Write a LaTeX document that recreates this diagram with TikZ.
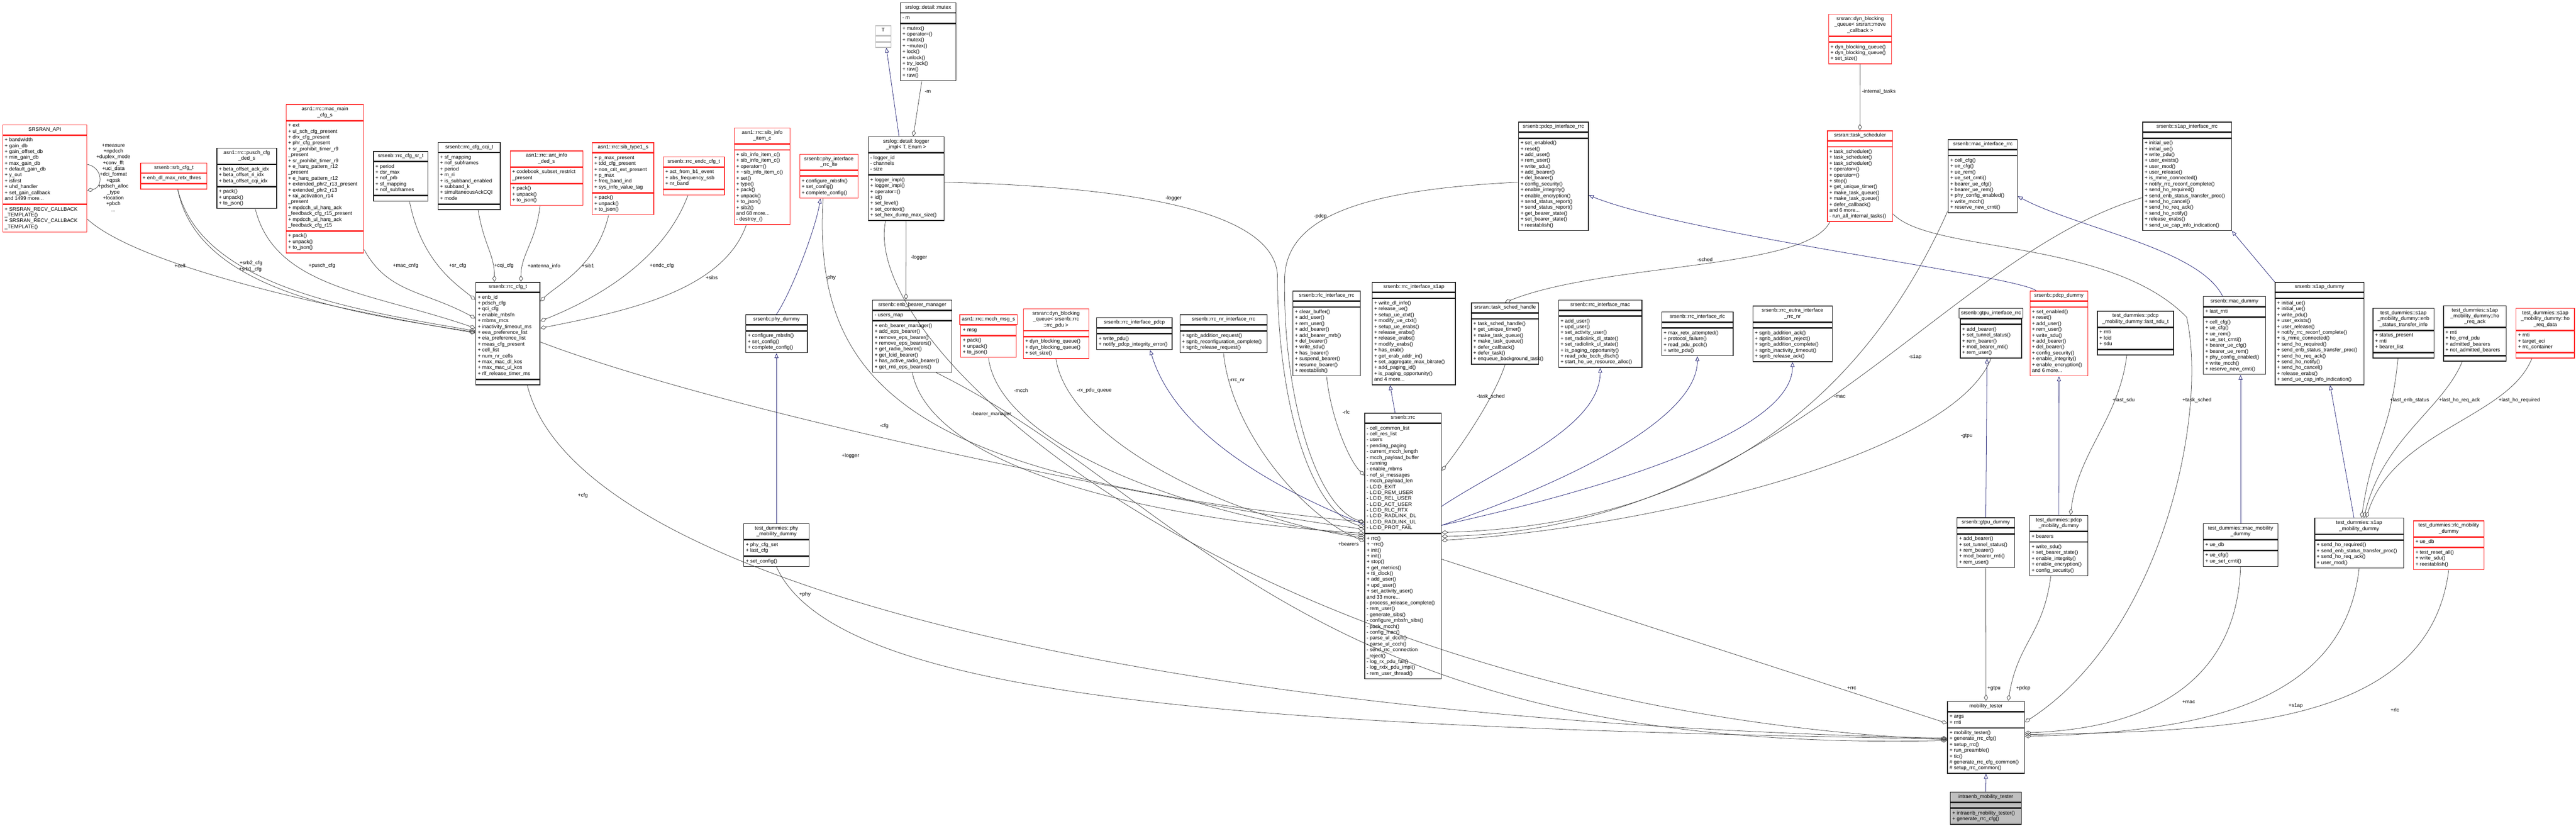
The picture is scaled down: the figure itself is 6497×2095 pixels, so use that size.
\documentclass[tikz,border=0pt]{standalone}
\usepackage{fontspec}
\setmainfont{Liberation Sans}
\usetikzlibrary{arrows.meta,fit}
\definecolor{cred}{RGB}{255,40,40}
\definecolor{cblk}{RGB}{30,30,30}
\definecolor{cgry}{RGB}{191,191,191}
\definecolor{edgec}{RGB}{64,64,64}
\definecolor{inhc}{RGB}{25,25,112}
\tikzset{
  cfont/.style={font=\fontsize{6.5}{7.4}\selectfont},
  cpart/.style={draw, line width=0.9pt, fill=white, inner xsep=2.5pt, inner ysep=2.5pt, cfont},
  ctitle/.style={cpart, anchor=north west},
  cbody/.style={cpart, anchor=north},
  rb/.style={draw=cred},
  bb/.style={draw=cblk},
  gb/.style={draw=cgry},
  fb/.style={draw=cblk, fill=cgry},
  agg/.style={draw=edgec, line width=0.5pt, -{Diamond[open,length=8pt,width=5pt,line width=0.5pt]}},
  inh/.style={draw=inhc, line width=0.5pt, -{Triangle[open,length=6pt,width=5pt,line width=0.5pt]}},
  lbl/.style={cfont, inner sep=0.5pt, align=center},
}
\newcommand{\umlbox}[8]{%
  \pgfmathsetmacro{\bw}{#5*0.5}%
  \pgfmathsetmacro{\tw}{#5*0.5-5}%
  \node[ctitle,#1,minimum width=\bw pt] (#2-t) at (#3,#4) {\begin{tabular}{@{}c@{}}#6\end{tabular}};
  \node[cbody,#1,minimum width=\bw pt] (#2-a) at (#2-t.south) {\makebox[\tw pt][l]{\begin{tabular}{@{}l@{}}#7\end{tabular}}};
  \node[cbody,#1,minimum width=\bw pt] (#2-m) at (#2-a.south) {\makebox[\tw pt][l]{\begin{tabular}{@{}l@{}}#8\end{tabular}}};
  \node[fit=(#2-t)(#2-a)(#2-m),inner sep=0pt] (#2) {};
}
\begin{document}
\begin{tikzpicture}[x=0.5pt,y=-0.5pt]
\useasboundingbox (0,0) rectangle (6497,2095);
\fill[white] (0,0) rectangle (6497,2095);

% ---------- rank 1/2 ----------
\umlbox{rb}{rf}{6}{314}{212}{SRSRAN\_API}{+ bandwidth\\+ gain\_db\\+ gain\_offset\_db\\+ min\_gain\_db\\+ max\_gain\_db\\+ default\_gain\_db\\+ y\_out\\+ isfirst\\+ uhd\_handler\\+ set\_gain\_callback\\and 1499 more...}{+ SRSRAN\_RECV\_CALLBACK\\\_TEMPLATE()\\+ SRSRAN\_RECV\_CALLBACK\\\_TEMPLATE()}
\umlbox{rb}{srb}{354}{410}{167}{srsenb::srb\_cfg\_t}{+ enb\_dl\_max\_retx\_thres}{}
\umlbox{bb}{pusch}{546}{373}{151}{asn1::rrc::pusch\_cfg\\\_ded\_s}{+ beta\_offset\_ack\_idx\\+ beta\_offset\_ri\_idx\\+ beta\_offset\_cqi\_idx}{+ pack()\\+ unpack()\\+ to\_json()}
\umlbox{rb}{macmain}{721}{263}{195}{asn1::rrc::mac\_main\\\_cfg\_s}{+ ext\\+ ul\_sch\_cfg\_present\\+ drx\_cfg\_present\\+ phr\_cfg\_present\\+ sr\_prohibit\_timer\_r9\\\_present\\+ sr\_prohibit\_timer\_r9\\+ e\_harq\_pattern\_r12\\\_present\\+ e\_harq\_pattern\_r12\\+ extended\_phr2\_r13\_present\\+ extended\_phr2\_r13\\+ rai\_activation\_r14\\\_present\\+ mpdcch\_ul\_harq\_ack\\\_feedback\_cfg\_r15\_present\\+ mpdcch\_ul\_harq\_ack\\\_feedback\_cfg\_r15}{+ pack()\\+ unpack()\\+ to\_json()}
\umlbox{bb}{sr}{941}{381}{137}{srsenb::rrc\_cfg\_sr\_t}{+ period\\+ dsr\_max\\+ nof\_prb\\+ sf\_mapping\\+ nof\_subframes}{}
\umlbox{bb}{cqi}{1104}{358}{157}{srsenb::rrc\_cfg\_cqi\_t}{+ sf\_mapping\\+ nof\_subframes\\+ period\\+ m\_ri\\+ is\_subband\_enabled\\+ subband\_k\\+ simultaneousAckCQI\\+ mode}{}
\umlbox{rb}{antinfo}{1286}{380}{183}{asn1::rrc::ant\_info\\\_ded\_s}{+ codebook\_subset\_restrict\\\_present}{+ pack()\\+ unpack()\\+ to\_json()}
\umlbox{rb}{sib1}{1493}{359}{155}{asn1::rrc::sib\_type1\_s}{+ p\_max\_present\\+ tdd\_cfg\_present\\+ non\_crit\_ext\_present\\+ p\_max\\+ freq\_band\_ind\\+ sys\_info\_value\_tag}{+ pack()\\+ unpack()\\+ to\_json()}
\umlbox{rb}{endc}{1672}{395}{154}{srsenb::rrc\_endc\_cfg\_t}{+ act\_from\_b1\_event\\+ abs\_frequency\_ssb\\+ nr\_band}{}
\umlbox{rb}{sibinfo}{1851}{322}{141}{asn1::rrc::sib\_info\\\_item\_c}{}{+ sib\_info\_item\_c()\\+ sib\_info\_item\_c()\\+ operator=()\\+ \textasciitilde sib\_info\_item\_c()\\+ set()\\+ type()\\+ pack()\\+ unpack()\\+ to\_json()\\+ sib2()\\and 68 more...\\- destroy\_()}
\umlbox{rb}{phyif}{2016}{388}{147}{srsenb::phy\_interface\\\_rrc\_lte}{}{+ configure\_mbsfn()\\+ set\_config()\\+ complete\_config()}
\umlbox{gb}{T}{2207}{64}{39}{T}{}{}
\umlbox{bb}{mutex}{2270}{6}{140}{srslog::detail::mutex}{- m}{+ mutex()\\+ operator=()\\+ mutex()\\+ \textasciitilde mutex()\\+ lock()\\+ unlock()\\+ try\_lock()\\+ raw()\\+ raw()}
\umlbox{bb}{logger}{2189}{344}{191}{srslog::detail::logger\\\_impl< T, Enum >}{- logger\_id\\- channels\\- size}{+ logger\_impl()\\+ logger\_impl()\\+ operator=()\\+ id()\\+ set\_level()\\+ set\_context()\\+ set\_hex\_dump\_max\_size()}
\umlbox{bb}{pdcpif}{3829}{307}{176}{srsenb::pdcp\_interface\_rrc}{}{+ set\_enabled()\\+ reset()\\+ add\_user()\\+ rem\_user()\\+ write\_sdu()\\+ add\_bearer()\\+ del\_bearer()\\+ config\_security()\\+ enable\_integrity()\\+ enable\_encryption()\\+ send\_status\_report()\\+ send\_status\_report()\\+ get\_bearer\_state()\\+ set\_bearer\_state()\\+ reestablish()}
\umlbox{rb}{dynq}{4611}{35}{159}{srsran::dyn\_blocking\\\_queue< srsran::move\\\_callback >}{}{+ dyn\_blocking\_queue()\\+ dyn\_blocking\_queue()\\+ set\_size()}
\umlbox{rb}{tasksched}{4608}{329}{164}{srsran::task\_scheduler}{}{+ task\_scheduler()\\+ task\_scheduler()\\+ task\_scheduler()\\+ operator=()\\+ operator=()\\+ stop()\\+ get\_unique\_timer()\\+ make\_task\_queue()\\+ make\_task\_queue()\\+ defer\_callback()\\and 6 more...\\- run\_all\_internal\_tasks()}
\umlbox{bb}{macif}{4913}{351}{174}{srsenb::mac\_interface\_rrc}{}{+ cell\_cfg()\\+ ue\_cfg()\\+ ue\_rem()\\+ ue\_set\_crnti()\\+ bearer\_ue\_cfg()\\+ bearer\_ue\_rem()\\+ phy\_config\_enabled()\\+ write\_mcch()\\+ reserve\_new\_crnti()}
\umlbox{bb}{s1apif}{5403}{307}{224}{srsenb::s1ap\_interface\_rrc}{}{+ initial\_ue()\\+ initial\_ue()\\+ write\_pdu()\\+ user\_exists()\\+ user\_mod()\\+ user\_release()\\+ is\_mme\_connected()\\+ notify\_rrc\_reconf\_complete()\\+ send\_ho\_required()\\+ send\_enb\_status\_transfer\_proc()\\+ send\_ho\_cancel()\\+ send\_ho\_req\_ack()\\+ send\_ho\_notify()\\+ release\_erabs()\\+ send\_ue\_cap\_info\_indication()}

% ---------- rank 3 ----------
\umlbox{bb}{rrccfg}{1199}{711}{162}{srsenb::rrc\_cfg\_t}{+ enb\_id\\+ pdsch\_cfg\\+ qci\_cfg\\+ enable\_mbsfn\\+ mbms\_mcs\\+ inactivity\_timeout\_ms\\+ eea\_preference\_list\\+ eia\_preference\_list\\+ meas\_cfg\_present\\+ cell\_list\\+ num\_nr\_cells\\+ max\_mac\_dl\_kos\\+ max\_mac\_ul\_kos\\+ rlf\_release\_timer\_ms}{}
\umlbox{bb}{phydummy}{1880}{793}{155}{srsenb::phy\_dummy}{}{+ configure\_mbsfn()\\+ set\_config()\\+ complete\_config()}
\umlbox{bb}{bearermgr}{2200}{756}{200}{srsenb::enb\_bearer\_manager}{- users\_map}{+ enb\_bearer\_manager()\\+ add\_eps\_bearer()\\+ remove\_eps\_bearer()\\+ remove\_eps\_bearers()\\+ get\_radio\_bearer()\\+ get\_lcid\_bearer()\\+ has\_active\_radio\_bearer()\\+ get\_rnti\_eps\_bearers()}
\umlbox{rb}{mcch}{2420}{793}{140}{asn1::rrc::mcch\_msg\_s}{+ msg}{+ pack()\\+ unpack()\\+ to\_json()}
\umlbox{rb}{rxq}{2580}{778}{165}{srsran::dyn\_blocking\\\_queue< srsenb::rrc\\::rrc\_pdu >}{}{+ dyn\_blocking\_queue()\\+ dyn\_blocking\_queue()\\+ set\_size()}
\umlbox{bb}{rrcifpdcp}{2765}{800}{190}{srsenb::rrc\_interface\_pdcp}{}{+ write\_pdu()\\+ notify\_pdcp\_integrity\_error()}
\umlbox{bb}{rrcnrif}{2975}{793}{220}{srsenb::rrc\_nr\_interface\_rrc}{}{+ sgnb\_addition\_request()\\+ sgnb\_reconfiguration\_complete()\\+ sgnb\_release\_request()}
\umlbox{bb}{rlcif}{3260}{733}{170}{srsenb::rlc\_interface\_rrc}{}{+ clear\_buffer()\\+ add\_user()\\+ rem\_user()\\+ add\_bearer()\\+ add\_bearer\_mrb()\\+ del\_bearer()\\+ write\_sdu()\\+ has\_bearer()\\+ suspend\_bearer()\\+ resume\_bearer()\\+ reestablish()}
\umlbox{bb}{rrcifs1ap}{3460}{711}{210}{srsenb::rrc\_interface\_s1ap}{}{+ write\_dl\_info()\\+ release\_ue()\\+ setup\_ue\_ctxt()\\+ modify\_ue\_ctxt()\\+ setup\_ue\_erabs()\\+ release\_erabs()\\+ release\_erabs()\\+ modify\_erabs()\\+ has\_erab()\\+ get\_erab\_addr\_in()\\+ set\_aggregate\_max\_bitrate()\\+ add\_paging\_id()\\+ is\_paging\_opportunity()\\and 4 more...}
\umlbox{bb}{tsh}{3710}{763}{170}{srsran::task\_sched\_handle}{}{+ task\_sched\_handle()\\+ get\_unique\_timer()\\+ make\_task\_queue()\\+ make\_task\_queue()\\+ defer\_callback()\\+ defer\_task()\\+ enqueue\_background\_task()}
\umlbox{bb}{rrcifmac}{3930}{756}{210}{srsenb::rrc\_interface\_mac}{}{+ add\_user()\\+ upd\_user()\\+ set\_activity\_user()\\+ set\_radiolink\_dl\_state()\\+ set\_radiolink\_ul\_state()\\+ is\_paging\_opportunity()\\+ read\_pdu\_bcch\_dlsch()\\+ start\_ho\_ue\_resource\_alloc()}
\umlbox{bb}{rrcifrlc}{4190}{786}{180}{srsenb::rrc\_interface\_rlc}{}{+ max\_retx\_attempted()\\+ protocol\_failure()\\+ read\_pdu\_pcch()\\+ write\_pdu()}
\umlbox{bb}{rrceutra}{4420}{771}{200}{srsenb::rrc\_eutra\_interface\\\_rrc\_nr}{}{+ sgnb\_addition\_ack()\\+ sgnb\_addition\_reject()\\+ sgnb\_addition\_complete()\\+ sgnb\_inactivity\_timeout()\\+ sgnb\_release\_ack()}
\umlbox{bb}{gtpuif}{4940}{777}{155}{srsenb::gtpu\_interface\_rrc}{}{+ add\_bearer()\\+ set\_tunnel\_status()\\+ rem\_bearer()\\+ mod\_bearer\_rnti()\\+ rem\_user()}
\umlbox{rb}{pdcpdummy}{5119}{733}{146}{srsenb::pdcp\_dummy}{}{+ set\_enabled()\\+ reset()\\+ add\_user()\\+ rem\_user()\\+ write\_sdu()\\+ add\_bearer()\\+ del\_bearer()\\+ config\_security()\\+ enable\_integrity()\\+ enable\_encryption()\\and 6 more...}
\umlbox{bb}{lastsdu}{5289}{784}{192}{test\_dummies::pdcp\\\_mobility\_dummy::last\_sdu\_t}{+ rnti\\+ lcid\\+ sdu}{}
\umlbox{bb}{macdummy}{5556}{747}{157}{srsenb::mac\_dummy}{+ last\_rnti}{+ cell\_cfg()\\+ ue\_cfg()\\+ ue\_rem()\\+ ue\_set\_crnti()\\+ bearer\_ue\_cfg()\\+ bearer\_ue\_rem()\\+ phy\_config\_enabled()\\+ write\_mcch()\\+ reserve\_new\_crnti()}
\umlbox{bb}{s1apdummy}{5737}{711}{224}{srsenb::s1ap\_dummy}{}{+ initial\_ue()\\+ initial\_ue()\\+ write\_pdu()\\+ user\_exists()\\+ user\_release()\\+ notify\_rrc\_reconf\_complete()\\+ is\_mme\_connected()\\+ send\_ho\_required()\\+ send\_enb\_status\_transfer\_proc()\\+ send\_ho\_req\_ack()\\+ send\_ho\_notify()\\+ send\_ho\_cancel()\\+ release\_erabs()\\+ send\_ue\_cap\_info\_indication()}
\umlbox{bb}{enbstatus}{5984}{777}{154}{test\_dummies::s1ap\\\_mobility\_dummy::enb\\\_status\_transfer\_info}{+ status\_present\\+ rnti\\+ bearer\_list}{}
\umlbox{bb}{horeqack}{6162}{770}{158}{test\_dummies::s1ap\\\_mobility\_dummy::ho\\\_req\_ack}{+ rnti\\+ ho\_cmd\_pdu\\+ admitted\_bearers\\+ not\_admitted\_bearers}{}
\umlbox{rb}{horeqdata}{6345}{777}{147}{test\_dummies::s1ap\\\_mobility\_dummy::ho\\\_req\_data}{+ rnti\\+ target\_eci\\+ rrc\_container}{}

% ---------- rank 4-6 ----------
\umlbox{bb}{rrc}{3441}{1041}{193}{srsenb::rrc}{- cell\_common\_list\\- cell\_res\_list\\- users\\- pending\_paging\\- current\_mcch\_length\\- mcch\_payload\_buffer\\- running\\- enable\_mbms\\- nof\_si\_messages\\- mcch\_payload\_len\\- LCID\_EXIT\\- LCID\_REM\_USER\\- LCID\_REL\_USER\\- LCID\_ACT\_USER\\- LCID\_RLC\_RTX\\- LCID\_RADLINK\_DL\\- LCID\_RADLINK\_UL\\- LCID\_PROT\_FAIL}{+ rrc()\\+ \textasciitilde rrc()\\+ init()\\+ init()\\+ stop()\\+ get\_metrics()\\+ tti\_clock()\\+ add\_user()\\+ upd\_user()\\+ set\_activity\_user()\\and 33 more...\\- process\_release\_complete()\\- rem\_user()\\- generate\_sibs()\\- configure\_mbsfn\_sibs()\\- pack\_mcch()\\- config\_mac()\\- parse\_ul\_dcch()\\- parse\_ul\_ccch()\\- send\_rrc\_connection\\\_reject()\\- log\_rx\_pdu\_fail()\\- log\_rxtx\_pdu\_impl()\\- rem\_user\_thread()}
\umlbox{bb}{phymob}{1875}{1320}{165}{test\_dummies::phy\\\_mobility\_dummy}{+ phy\_cfg\_set\\+ last\_cfg}{+ set\_config()}
\umlbox{bb}{gtpudummy}{4935}{1305}{145}{srsenb::gtpu\_dummy}{}{+ add\_bearer()\\+ set\_tunnel\_status()\\+ rem\_bearer()\\+ mod\_bearer\_rnti()\\+ rem\_user()}
\umlbox{bb}{pdcpmob}{5118}{1299}{147}{test\_dummies::pdcp\\\_mobility\_dummy}{+ bearers}{+ write\_sdu()\\+ set\_bearer\_state()\\+ enable\_integrity()\\+ enable\_encryption()\\+ config\_security()}
\umlbox{bb}{macmob}{5556}{1320}{188}{test\_dummies::mac\_mobility\\\_dummy}{+ ue\_db}{+ ue\_cfg()\\+ ue\_set\_crnti()}
\umlbox{bb}{s1apmob}{5837}{1306}{224}{test\_dummies::s1ap\\\_mobility\_dummy}{}{+ send\_ho\_required()\\+ send\_enb\_status\_transfer\_proc()\\+ send\_ho\_req\_ack()\\+ user\_mod()}
\umlbox{rb}{rlcmob}{6086}{1313}{178}{test\_dummies::rlc\_mobility\\\_dummy}{+ ue\_db}{+ test\_reset\_all()\\+ write\_sdu()\\+ reestablish()}
\umlbox{bb}{mobtester}{4911}{1768}{194}{mobility\_tester}{+ args\\+ rnti}{+ mobility\_tester()\\+ generate\_rrc\_cfg()\\+ setup\_rrc()\\+ run\_preamble()\\+ tic()\\\# generate\_rrc\_cfg\_common()\\\# setup\_rrc\_common()}
\umlbox{fb}{intraenb}{4918}{1997}{179}{intraenb\_mobility\_tester}{}{+ intraenb\_mobility\_tester()\\+ generate\_rrc\_cfg()}

% ---------- edges: top ----------
\draw[agg] ([xshift=-8pt]mutex.south) -- ([xshift=9pt]logger.north);
\node[lbl] (lm) at (2340,231) {-m};
\draw[inh] ([xshift=-9pt]logger.north) -- ([xshift=4pt]T.south);
\draw[agg] (dynq.south) -- (tasksched.north);
\node[lbl,anchor=west] (lit) at (4695,231) {-internal\_tasks};
\draw[agg] ([yshift=17.75pt]rf.east) .. controls +(40,8) and +(40,-8) .. ([yshift=-15.25pt]rf.east);
\node[lbl] (lrf) at (286,448) {+measure\\+npdcch\\+duplex\_mode\\+conv\_fft\\+uci\_data\\+dci\_format\\+qpsk\\+pdsch\_alloc\\\_type\\+location\\+pbch\\...};

% ---------- edges into rrc_cfg_t ----------
\draw[agg] ([yshift=-51.25pt]rf.east) .. controls +(120,110) and +(-420,-70) .. ([yshift=0.75pt]rrccfg.west);
\node[lbl] (lcell) at (454,671) {+cell};
\draw[agg] ([xshift=5pt]srb.south) .. controls +(60,240) and +(-320,-55) .. ([yshift=3.25pt]rrccfg.west);
\draw[agg] ([xshift=5pt]srb.south) .. controls +(50,250) and +(-330,-50) .. ([yshift=1.75pt]rrccfg.west);
\node[lbl] (lsrb2) at (633,664) {+srb2\_cfg};
\node[lbl] (lsrb1) at (631,679) {+srb1\_cfg};
\draw[agg] ([xshift=10.75pt]pusch.south) .. controls +(50,200) and +(-260,-90) .. ([yshift=6.75pt]rrccfg.west);
\node[lbl] (lpusch) at (812,671) {+pusch\_cfg};
\draw[agg] ([yshift=5pt]macmain.south east) .. controls +(60,110) and +(-130,-70) .. ([yshift=19.25pt]rrccfg.west);
\node[lbl] (lmaccn) at (1023,671) {+mac\_cnfg};
\draw[agg] ([xshift=11.25pt]sr.south) .. controls +(30,150) and +(-50,-40) .. ([yshift=42.75pt]rrccfg.west);
\node[lbl] (lsr) at (1154,671) {+sr\_cfg};
\draw[agg] ([xshift=11.25pt]cqi.south) .. controls +(15,90) and +(0,-70) .. ([xshift=-17pt]rrccfg.north);
\node[lbl] (lcqi) at (1271,671) {+cqi\_cfg};
\draw[agg] ([xshift=-8.25pt]antinfo.south) .. controls +(-10,90) and +(0,-70) .. ([xshift=16.5pt]rrccfg.north);
\node[lbl] (lant) at (1372,671) {+antenna\_info};
\draw[agg] ([xshift=-18.25pt]sib1.south) .. controls +(-30,130) and +(40,-40) .. ([yshift=40.75pt]rrccfg.east);
\node[lbl] (lsib1) at (1483,671) {+sib1};
\draw[agg] ([xshift=-7.5pt]endc.south) .. controls +(-60,160) and +(150,-60) .. ([yshift=15.75pt]rrccfg.east);
\node[lbl] (lendc) at (1669,671) {+endc\_cfg};
\draw[agg] ([xshift=-20.25pt]sibinfo.south) .. controls +(-60,170) and +(200,-40) .. ([yshift=6.75pt]rrccfg.east);
\node[lbl] (lsibs) at (1795,700) {+sibs};

% ---------- edges into rrc ----------
\draw[agg] ([yshift=-10.75pt]rrccfg.east) .. controls +(500,190) and +(-450,-60) .. ([yshift=21pt]rrc.west);
\node[lbl] (lcfg) at (2230,1075) {-cfg};
\draw[inh] (phydummy.north) .. controls +(40,-60) and +(-10,70) .. ([xshift=-10.75pt]phyif.south);
\draw[agg] ([xshift=-7.25pt]phyif.south) .. controls +(-30,500) and +(-1100,-110) .. ([yshift=30pt]rrc.west);
\node[lbl] (lphy) at (2095,700) {-phy};
\draw[inh] (phymob.north) -- (phydummy.south);
\draw[agg] ([yshift=-4.5pt]logger.east) .. controls (2800,470) and (3222,520) .. (3222,700) .. controls (3222,1000) and (3300,1290) .. ([yshift=24pt]rrc.west);
\node[lbl] (llog1) at (2960,500) {-logger};
\draw[agg] (logger.south) -- ([xshift=-8pt]bearermgr.north);
\node[lbl] (llog2) at (2318,650) {-logger};
\draw[agg] ([yshift=-7.5pt]pdcpif.west) .. controls (3400,480) and (3245,560) .. (3240,700) .. controls (3235,1000) and (3320,1280) .. ([yshift=30pt]rrc.west);
\node[lbl] (lpdcp) at (3330,545) {-pdcp};
\draw[agg] (bearermgr.south) .. controls +(50,250) and +(-500,-30) .. ([yshift=16pt]rrc.west);
\node[lbl] (lbm) at (2500,1045) {-bearer\_manager};
\draw[agg] (mcch.south) .. controls +(30,230) and +(-400,-40) .. ([yshift=13pt]rrc.west);
\node[lbl] (lmcch) at (2575,985) {-mcch};
\draw[agg] (rxq.south) .. controls +(30,200) and +(-350,-50) .. ([yshift=10pt]rrc.west);
\node[lbl] (lrxq) at (2760,985) {-rx\_pdu\_queue};
\draw[inh] ([yshift=27pt]rrc.west) .. controls +(-250,-100) and +(60,200) .. ([xshift=20pt]rrcifpdcp.south);
\draw[agg] (rrcnrif.south) .. controls +(20,200) and +(-150,-60) .. ([yshift=6pt]rrc.west);
\node[lbl] (lnr) at (3120,960) {-rrc\_nr};
\draw[agg] (rlcif.south) .. controls +(10,100) and +(-40,-40) .. ([yshift=89pt]rrc.west);
\node[lbl] (lrlc) at (3395,1040) {-rlc};
\draw[inh] ([xshift=-10pt]rrc.north) -- ([xshift=-30pt]rrcifs1ap.south);
\draw[agg] (tsh.south) .. controls +(-30,90) and +(40,-50) .. ([yshift=95pt]rrc.east);
\node[lbl] (ltsh) at (3760,1000) {-task\_sched};
\draw[agg] ([xshift=-38pt]tasksched.south) .. controls +(-60,120) and +(250,-100) .. (tsh.north);
\node[lbl] (lsched) at (4300,655) {-sched};
\draw[inh] ([yshift=50pt]rrc.east) .. controls +(150,-100) and +(0,150) .. (rrcifmac.south);
\draw[inh] ([yshift=26pt]rrc.east) .. controls +(350,-120) and +(0,150) .. (rrcifrlc.south);
\draw[inh] ([yshift=26pt]rrc.east) .. controls +(450,-100) and +(0,170) .. (rrceutra.south);
\draw[agg] ([yshift=3pt]macif.south west) .. controls +(-200,450) and +(700,-20) .. ([yshift=17pt]rrc.east);
\node[lbl] (lmac) at (4640,1000) {-mac};
\draw[agg] ([yshift=-27pt]s1apif.west) .. controls +(-503,148) and +(866,-18) .. ([yshift=12pt]rrc.east);
\node[lbl] (ls1ap) at (4830,900) {-s1ap};
\draw[agg] (gtpuif.south) .. controls +(-100,250) and +(500,-30) .. ([yshift=7pt]rrc.east);
\node[lbl] (lgtpu) at (4960,1100) {-gtpu};

% ---------- right side dummies ----------
\draw[inh] ([xshift=-29pt]pdcpdummy.north) .. controls +(-60,-40) and +(250,100) .. ([yshift=-24pt]pdcpif.east);
\draw[inh] ([xshift=-15pt]macdummy.north) .. controls +(-60,-120) and +(150,80) .. ([yshift=-25.5pt]macif.east);
\draw[inh] (s1apdummy.north west) -- (s1apif.south east);
\draw[inh] (pdcpmob.north) -- (pdcpdummy.south);
\draw[agg] ([xshift=-11pt]lastsdu.south) .. controls +(-20,160) and +(20,-160) .. ([xshift=14.75pt]pdcpmob.north);
\node[lbl] (lsdu) at (5356,1009) {+last\_sdu};
\draw[inh] (macmob.north) -- ([xshift=7.75pt]macdummy.south);
\draw[inh] ([xshift=-6.5pt]s1apmob.north) -- ([xshift=13.5pt]s1apdummy.south);
\draw[agg] ([xshift=-7pt]enbstatus.south) .. controls +(-20,200) and +(30,-200) .. ([xshift=3pt]s1apmob.north);
\node[lbl] (lenb) at (6077,1009) {+last\_enb\_status};
\draw[agg] ([xshift=-16pt]horeqack.south) .. controls +(-50,120) and +(50,-200) .. ([xshift=6pt]s1apmob.north);
\node[lbl] (lack) at (6203,1009) {+last\_ho\_req\_ack};
\draw[agg] ([xshift=-17pt]horeqdata.south) .. controls +(-60,150) and +(70,-220) .. ([xshift=9pt]s1apmob.north);
\node[lbl] (lreq) at (6354,1009) {+last\_ho\_required};
\draw[inh] (gtpudummy.north) -- ([xshift=-5pt]gtpuif.south);

% ---------- edges into mobility_tester ----------
\draw[agg] ([yshift=-16.75pt]rrc.east) -- ([yshift=17.75pt]mobtester.west);
\node[lbl] (lrrc) at (4670,1736) {+rrc};
\draw[agg] ([xshift=24.5pt]rrccfg.south) .. controls +(130,520) and +(-1900,-40) .. ([yshift=-1pt]mobtester.west);
\node[lbl] (lcfg2) at (1470,1250) {+cfg};
\draw[agg] (phymob.south) .. controls +(150,330) and +(-1800,-30) .. ([yshift=-2pt]mobtester.west);
\node[lbl] (lphy2) at (2030,1500) {+phy};
\draw[agg] ([xshift=-26pt]logger.south) .. controls +(-70,350) and +(-1700,-80) .. ([yshift=-3pt]mobtester.west);
\node[lbl] (llog3) at (2145,1150) {+logger};
\draw[agg] ([xshift=30pt]bearermgr.south) .. controls +(640,316) and +(-1611,35) .. ([yshift=-4pt]mobtester.west);
\node[lbl] (lbear) at (3401,1372) {+bearers};
\draw[agg] ([yshift=-47.5pt]tasksched.east) .. controls (4870,640) and (5320,600) .. (5515,800) .. controls (5570,1050) and (5450,1600) .. ([yshift=19.25pt]mobtester.east);
\node[lbl] (ltask) at (5541,1009) {+task\_sched};
\draw[agg] (gtpudummy.south) -- (mobtester.north);
\node[lbl] (lgtpu2) at (5029,1736) {+gtpu};
\draw[agg] ([xshift=-10pt]pdcpmob.south) .. controls +(-20,150) and +(25,-150) .. ([xshift=28pt]mobtester.north);
\node[lbl] (lpdcp2) at (5103,1736) {+pdcp};
\draw[agg] (macmob.south) .. controls +(-10,300) and +(300,-10) .. ([yshift=5.75pt]mobtester.east);
\node[lbl] (lmac2) at (5520,1770) {+mac};
\draw[agg] (s1apmob.south) .. controls +(-40,360) and +(400,-10) .. ([yshift=1.25pt]mobtester.east);
\node[lbl] (ls1ap2) at (5790,1780) {+s1ap};
\draw[agg] (rlcmob.south) .. controls +(-50,400) and +(500,-10) .. ([yshift=3.5pt]mobtester.east);
\node[lbl] (lrlc2) at (6040,1790) {+rlc};
\draw[inh] (intraenb.north) -- (mobtester.south);
\end{tikzpicture}
\end{document}
